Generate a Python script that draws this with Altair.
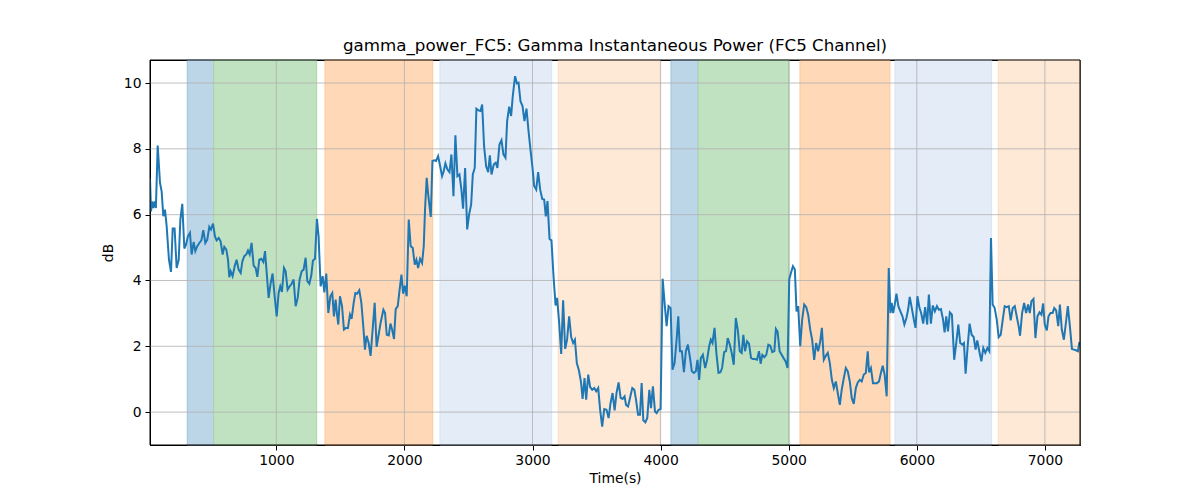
import altair as alt
import pandas as pd

# ---- line data (time in s, power in dB) ----
times = [14, 22, 30, 40, 50, 60, 74, 92, 105, 118, 131, 144, 162, 178, 191, 206, 222, 238, 251, 266,
         282, 295, 310, 326, 339, 355, 368, 383, 399, 415, 430, 446, 461, 477, 490, 506, 521, 534, 550, 565,
         581, 594, 610, 623, 633, 644, 659, 675, 690, 706, 722, 735, 750, 766, 779, 792, 807, 823, 839, 852,
         867, 883, 899, 912, 925, 940, 956, 971, 987, 1003, 1018, 1031, 1044, 1060, 1073, 1088, 1104, 1120, 1135, 1151,
         1167, 1182, 1198, 1213, 1229, 1242, 1258, 1273, 1286, 1302, 1317, 1330, 1346, 1362, 1375, 1390, 1406, 1422, 1437, 1450,
         1463, 1474, 1484, 1497, 1513, 1528, 1544, 1559, 1575, 1588, 1604, 1617, 1632, 1648, 1664, 1679, 1692, 1705, 1721, 1736,
         1752, 1768, 1783, 1799, 1814, 1836, 1849, 1862, 1878, 1891, 1904, 1919, 1932, 1948, 1961, 1977, 1990, 2003, 2018, 2034,
         2049, 2065, 2081, 2094, 2107, 2122, 2138, 2151, 2161, 2174, 2187, 2206, 2219, 2234, 2247, 2263, 2279, 2294, 2307, 2320,
         2336, 2352, 2367, 2383, 2398, 2414, 2430, 2445, 2458, 2474, 2490, 2505, 2521, 2534, 2549, 2562, 2578, 2594, 2607, 2622,
         2638, 2654, 2667, 2680, 2698, 2713, 2726, 2742, 2758, 2773, 2789, 2802, 2818, 2833, 2846, 2864, 2878, 2891, 2906, 2922,
         2937, 2953, 2969, 2984, 3000, 3013, 3029, 3044, 3060, 3076, 3091, 3104, 3117, 3133, 3148, 3164, 3180, 3192, 3208, 3224,
         3239, 3255, 3270, 3286, 3302, 3317, 3331, 3346, 3362, 3378, 3391, 3406, 3419, 3435, 3450, 3466, 3482, 3497, 3513, 3528,
         3544, 3560, 3578, 3594, 3609, 3625, 3641, 3656, 3672, 3688, 3703, 3719, 3730, 3746, 3761, 3779, 3795, 3808, 3824, 3839,
         3852, 3865, 3881, 3896, 3912, 3925, 3940, 3956, 3969, 3984, 4000, 4016, 4031, 4047, 4062, 4078, 4093, 4109, 4125, 4138,
         4151, 4166, 4182, 4197, 4213, 4228, 4244, 4260, 4275, 4288, 4301, 4314, 4330, 4348, 4363, 4379, 4392, 4405, 4421, 4436,
         4452, 4467, 4480, 4496, 4511, 4524, 4540, 4555, 4571, 4587, 4602, 4618, 4633, 4646, 4659, 4675, 4690, 4706, 4721, 4737,
         4753, 4768, 4781, 4794, 4810, 4825, 4841, 4856, 4872, 4888, 4900, 4913, 4929, 4945, 4960, 4976, 4991, 5004, 5019, 5033,
         5048, 5061, 5074, 5090, 5105, 5121, 5137, 5152, 5168, 5183, 5199, 5214, 5230, 5246, 5259, 5274, 5290, 5305, 5321, 5337,
         5352, 5368, 5383, 5399, 5414, 5430, 5446, 5461, 5477, 5492, 5508, 5524, 5539, 5555, 5570, 5586, 5602, 5617, 5627, 5642,
         5658, 5674, 5689, 5705, 5721, 5734, 5749, 5765, 5781, 5794, 5804, 5815, 5828, 5841, 5856, 5872, 5888, 5903, 5919, 5932,
         5945, 5961, 5977, 5990, 6005, 6021, 6034, 6050, 6065, 6081, 6094, 6110, 6125, 6141, 6157, 6172, 6188, 6204, 6217, 6230,
         6243, 6258, 6274, 6292, 6308, 6324, 6339, 6355, 6368, 6381, 6397, 6412, 6428, 6444, 6459, 6472, 6488, 6504, 6519, 6535,
         6551, 6566, 6579, 6592, 6608, 6624, 6639, 6655, 6671, 6686, 6702, 6718, 6733, 6749, 6765, 6780, 6796, 6806, 6822, 6838,
         6853, 6869, 6882, 6895, 6911, 6926, 6942, 6958, 6973, 6986, 6999, 7015, 7028, 7044, 7060, 7073, 7088, 7104, 7117, 7132,
         7148, 7164, 7179, 7195, 7211, 7226, 7242, 7258, 7268, 7274]

power_db = [7.1, 6.1, 6.4, 6.2, 6.4, 6.2, 8.1, 6.97, 6.7, 5.95, 6.15, 5.65, 4.63, 4.26, 5.58, 5.58, 4.38, 4.63, 5.85, 6.33,
            4.97, 5.09, 5.34, 5.45, 4.79, 5.17, 4.89, 5.04, 5.14, 5.22, 5.53, 5.14, 5.24, 5.63, 5.55, 5.73, 5.34, 5.22, 5.29, 5.19,
            4.79, 5.02, 4.94, 4.63, 4.10, 4.28, 4.13, 4.43, 4.63, 4.33, 4.23, 4.58, 4.74, 4.79, 4.91, 4.79, 5.14, 4.45, 4.38, 4.11,
            4.63, 4.66, 4.56, 4.89, 4.23, 3.47, 3.92, 4.21, 3.52, 2.91, 3.62, 3.82, 3.65, 4.38, 4.28, 3.72, 3.82, 3.90, 4.03, 3.22,
            3.47, 4.03, 4.28, 4.33, 4.69, 3.98, 3.90, 4.15, 4.61, 4.66, 5.87, 5.34, 3.82, 4.13, 3.64, 4.21, 3.01, 3.52, 3.62, 2.91,
            3.42, 2.96, 2.66, 3.52, 3.22, 2.51, 2.56, 2.55, 2.96, 2.83, 3.32, 3.62, 3.60, 3.70, 3.32, 2.61, 1.90, 2.32, 2.10, 1.71,
            2.51, 3.32, 1.98, 2.35, 2.71, 3.11, 3.01, 2.35, 2.33, 2.69, 2.51, 2.22, 3.13, 3.22, 3.67, 4.18, 3.60, 3.84, 3.52, 5.85,
            5.04, 4.99, 4.48, 4.63, 4.38, 4.66, 4.53, 5.04, 6.16, 7.12, 6.56, 5.93, 7.63, 7.65, 7.63, 7.78, 7.47, 7.17, 7.32, 7.56,
            7.37, 7.29, 7.83, 6.56, 8.41, 7.17, 7.22, 6.76, 6.18, 7.42, 5.55, 6.00, 6.31, 7.22, 7.42, 9.22, 9.17, 9.15, 9.35, 8.08,
            7.47, 7.29, 7.80, 7.22, 7.53, 7.58, 7.42, 8.13, 8.26, 7.83, 7.73, 8.84, 9.28, 9.00, 9.60, 10.21, 9.99, 10.01, 9.45, 9.30,
            8.84, 9.22, 8.54, 7.98, 7.42, 6.87, 6.76, 7.29, 6.76, 6.48, 6.46, 5.95, 6.41, 5.26, 5.22, 4.13, 3.24, 3.47, 2.71, 1.77,
            3.40, 1.92, 2.20, 2.91, 2.28, 2.10, 2.20, 1.49, 1.27, 0.93, 0.40, 1.03, 0.38, 1.14, 0.76, 0.68, 0.73, 0.63, 0.73, 0.07,
            -0.44, 0.09, 0.07, -0.18, 0.27, 0.58, 0.05, 0.58, 0.90, 0.43, 0.40, 0.48, 0.22, 0.17, 0.43, 0.73, 0.68, 0.38, -0.08, -0.08,
            0.88, -0.25, -0.31, -0.18, 0.68, 0.12, 0.78, 0.02, -0.03, 0.07, 0.09, 4.05, 3.32, 2.61, 3.22, 3.16, 1.29, 1.49, 2.20, 2.91,
            1.85, 1.85, 1.21, 1.85, 2.05, 1.69, 1.24, 1.19, 1.24, 1.59, 0.98, 1.64, 1.74, 1.34, 1.59, 2.00, 2.20, 2.10, 2.56, 1.77,
            1.19, 1.21, 1.34, 1.82, 1.85, 2.25, 2.05, 1.80, 1.44, 2.86, 2.51, 1.85, 1.80, 2.35, 1.85, 2.15, 2.08, 1.64, 1.61, 1.61,
            1.59, 1.85, 1.47, 1.74, 1.67, 1.74, 2.05, 2.02, 1.82, 1.85, 2.53, 2.45, 1.85, 1.74, 1.64, 1.54, 1.34, 4.03, 4.25, 4.43,
            4.33, 3.06, 3.22, 2.00, 2.81, 3.27, 3.19, 2.96, 2.51, 2.20, 1.59, 2.10, 1.85, 2.15, 2.56, 1.59, 1.71, 1.80, 1.49, 0.98,
            0.73, 0.93, 0.58, 0.22, 0.68, 1.03, 1.34, 1.24, 0.93, 0.43, 0.25, 0.73, 0.90, 0.98, 0.93, 1.14, 1.19, 1.85, 1.21, 1.34,
            0.88, 0.88, 0.88, 0.93, 1.21, 1.41, 1.14, 0.48, 4.38, 3.01, 3.32, 3.01, 3.27, 3.60, 3.22, 3.06, 2.91, 2.66, 2.86, 3.11,
            3.50, 3.16, 2.81, 2.56, 3.52, 3.16, 3.01, 2.69, 3.19, 2.66, 3.57, 2.69, 3.24, 3.06, 3.22, 3.11, 3.13, 2.83, 2.42, 2.91,
            2.45, 3.03, 2.96, 1.59, 2.10, 2.66, 2.10, 2.05, 2.10, 1.17, 2.00, 2.69, 2.35, 2.28, 1.90, 2.18, 1.85, 1.54, 1.95, 1.80,
            1.95, 1.85, 5.29, 3.27, 3.16, 2.81, 2.28, 2.35, 2.81, 3.22, 3.19, 3.22, 2.79, 3.16, 3.22, 2.91, 2.59, 2.32, 3.01, 3.32,
            3.01, 3.27, 3.01, 3.37, 3.44, 2.25, 2.91, 3.03, 2.96, 3.30, 2.66, 2.48, 2.91, 3.01, 3.01, 3.16, 3.09, 2.61, 3.27, 2.51,
            2.20, 2.71, 3.22, 2.61, 1.92, 1.90, 1.88, 1.85, 2.10, 2.12]

# ---- shaded epochs ----
band_start = [305, 511, 1380, 2278, 3201, 4081, 4294, 5088, 5830, 6636]
band_end = [511, 1315, 2221, 3150, 3995, 4294, 5004, 5790, 6584, 7274]
band_kind = ["a", "b", "c", "d", "e", "a", "b", "c", "d", "e"]
kind_fill = {"a": "#bcd6e8", "b": "#c0e2c0", "c": "#ffd9b7", "d": "#e4ecf7", "e": "#fee8d6"}
kind_edge = {"a": "#9fc3df", "b": "#a6d7a6", "c": "#ffc796", "d": "#d9e4f3", "e": "#fcdcc2"}

x_ticks = [1000, 2000, 3000, 4000, 5000, 6000, 7000]
y_ticks = [0, 2, 4, 6, 8, 10]

line_df = pd.DataFrame({"t": times, "v": power_db})
band_df = pd.DataFrame({"start": band_start, "end": band_end, "kind": band_kind})
xgrid_df = pd.DataFrame({"t": x_ticks})
ygrid_df = pd.DataFrame({"v": y_ticks})

W, H = 930, 385
x_dom = [14, 7274]
y_dom = [-1.0, 10.7]
xscale = alt.Scale(domain=x_dom, nice=False, zero=False)
yscale = alt.Scale(domain=y_dom, nice=False, zero=False)

FS = 13.9

x_axis = alt.Axis(values=x_ticks, grid=False, title="Time(s)", labelFontSize=FS, titleFontSize=FS,
                  titleFontWeight="normal", tickSize=5, tickColor="black", domainColor="black",
                  labelColor="black", titleColor="black", labelPadding=3, titlePadding=5, format="d",
                  labelFlush=False)
y_axis = alt.Axis(values=y_ticks, grid=False, title="dB", labelFontSize=FS, titleFontSize=FS,
                  titleFontWeight="normal", tickSize=5, tickColor="black", domainColor="black",
                  labelColor="black", titleColor="black", labelPadding=4, titlePadding=8, format="d")

bands = alt.Chart(band_df).mark_rect(strokeWidth=1).encode(
    x=alt.X("start:Q", scale=xscale, axis=x_axis),
    x2="end:Q",
    y=alt.value(0),
    y2=alt.value(H),
    fill=alt.Fill("kind:N", scale=alt.Scale(domain=list(kind_fill.keys()), range=list(kind_fill.values())), legend=None),
    stroke=alt.Stroke("kind:N", scale=alt.Scale(domain=list(kind_edge.keys()), range=list(kind_edge.values())), legend=None),
)

xgrid = alt.Chart(xgrid_df).mark_rule(color="#b0b0b0", strokeWidth=0.8).encode(
    x=alt.X("t:Q", scale=xscale)
)
ygrid = alt.Chart(ygrid_df).mark_rule(color="#b0b0b0", strokeWidth=0.8).encode(
    y=alt.Y("v:Q", scale=yscale, axis=y_axis)
)

line = alt.Chart(line_df).mark_line(color="#1f77b4", strokeWidth=2, clip=True).encode(
    x=alt.X("t:Q", scale=xscale),
    y=alt.Y("v:Q", scale=yscale),
)

# axes frame drawn on top (like matplotlib spines)
frame = alt.Chart(pd.DataFrame({"k": [0]})).mark_rect(filled=False, stroke="black", strokeWidth=1).encode(
    x=alt.value(0), x2=alt.value(W), y=alt.value(0), y2=alt.value(H)
)

chart = alt.layer(bands, xgrid, ygrid, line, frame).resolve_scale(
    stroke="independent", fill="independent"
).properties(
    width=W,
    height=H,
    title=alt.TitleParams("gamma_power_FC5: Gamma Instantaneous Power (FC5 Channel)", fontSize=16.7,
                          fontWeight="normal", color="black", anchor="middle", offset=8, dy=16,
                          baseline="alphabetic"),
    autosize=alt.AutoSizeParams(type="none"),
    padding={"left": 142, "top": 52, "right": 100, "bottom": 40},
).configure(
    font="DejaVu Sans",
).configure_view(
    stroke="black", strokeWidth=1
)

chart.save("out.html", embed_options={"renderer": "svg", "actions": False})
